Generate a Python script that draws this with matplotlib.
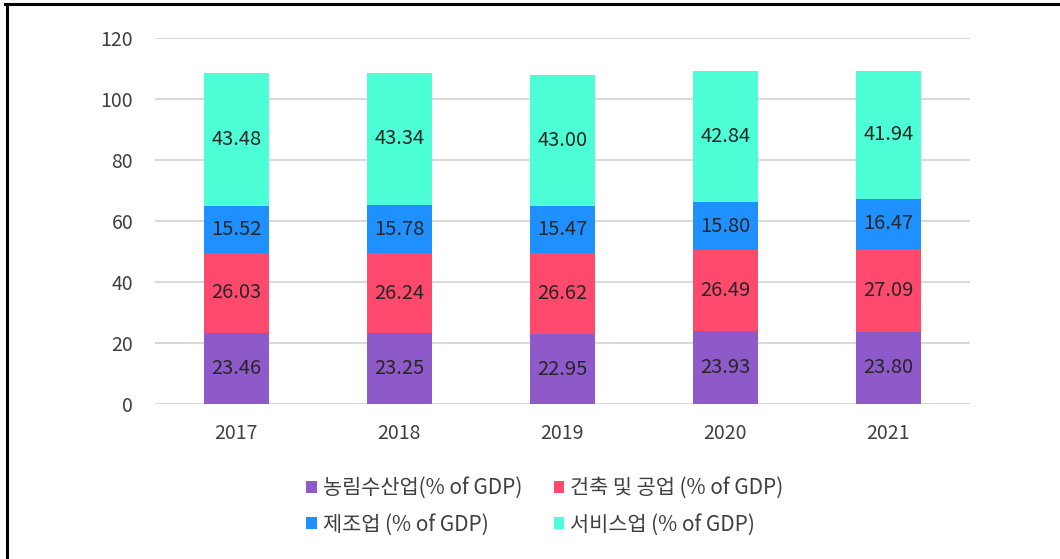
import matplotlib
matplotlib.use("Agg")
import matplotlib.pyplot as plt
from matplotlib.lines import Line2D
from matplotlib.patches import Patch
import numpy as np

plt.rcParams['font.family'] = ['Noto Sans CJK KR', 'DejaVu Sans']

years = ["2017", "2018", "2019", "2020", "2021"]
agri = [23.46, 23.25, 22.95, 23.93, 23.80]
constr = [26.03, 26.24, 26.62, 26.49, 27.09]
manuf = [15.52, 15.78, 15.47, 15.80, 16.47]
service = [43.48, 43.34, 43.00, 42.84, 41.94]

series = [agri, constr, manuf, service]
names = ["농림수산업(% of GDP)", "건축 및 공업 (% of GDP)", "제조업 (% of GDP)", "서비스업 (% of GDP)"]
colors = ["#8E59C9", "#FF4A6D", "#1E90FF", "#4DFFD6"]

fig = plt.figure(figsize=(10.6, 5.59), dpi=100)
ax = fig.add_axes([0.146, 0.277, 0.769, 0.655])

x = np.arange(len(years))
bottom = np.zeros(len(years))
for vals, c in zip(series, colors):
    v = np.array(vals)
    ax.bar(x, v, bottom=bottom, width=0.4, color=c, zorder=3)
    for xi, b, h in zip(x, bottom, v):
        ax.text(xi, b + h / 2, f"{h:.2f}", ha='center', va='center',
                fontsize=14.5, color='#262626', zorder=4)
    bottom += v

ax.set_xlim(-0.5, len(years) - 0.5)
ax.set_ylim(0, 120)
ax.set_yticks(range(0, 121, 20))
ax.set_xticks(x)
ax.set_xticklabels(years)
ax.tick_params(axis='both', length=0, labelsize=14, colors='#404040')
ax.tick_params(axis='x', pad=13.5)
ax.tick_params(axis='y', pad=15.5)
ax.grid(axis='y', color='#d9d9d9', linewidth=1.5, zorder=0)
for s in ax.spines.values():
    s.set_visible(False)

# legend: row-major order (agri, constr / manuf, service) -> column-major list
order = [0, 2, 1, 3]
handles = [Patch(facecolor=colors[i], edgecolor='none') for i in order]
labels = [names[i] for i in order]
fig.legend(handles, labels, loc='center', bbox_to_anchor=(0.514, 0.094), ncol=2,
           frameon=False, fontsize=15, handlelength=0.5, handleheight=0.5,
           handletextpad=0.3, columnspacing=1.5, labelspacing=0.7,
           labelcolor='#404040')

fig.add_artist(Line2D([0.005, 1.0], [0.992, 0.992], color='black', linewidth=2.2, transform=fig.transFigure))
fig.add_artist(Line2D([0.0065, 0.0065], [0.0, 0.992], color='black', linewidth=2.2, transform=fig.transFigure))

fig.savefig("out.png", dpi=100, facecolor='white')
